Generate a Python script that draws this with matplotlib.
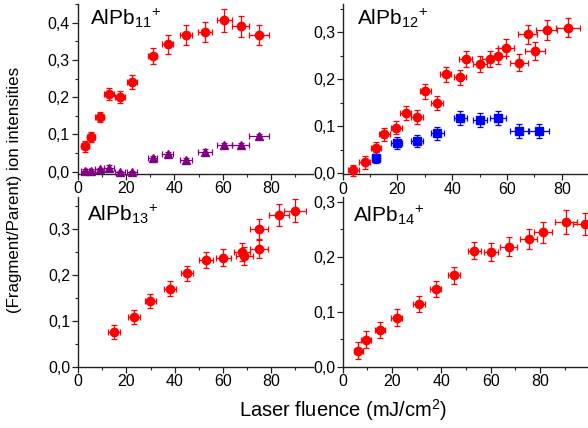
import matplotlib
matplotlib.use("Agg")
import matplotlib.pyplot as plt
from matplotlib.ticker import MultipleLocator, FuncFormatter

plt.rcParams['font.family'] = ['Liberation Sans', 'DejaVu Sans']
plt.rcParams['mathtext.fontset'] = 'custom'
plt.rcParams['mathtext.rm'] = 'Liberation Sans'
plt.rcParams['mathtext.it'] = 'Liberation Sans'
plt.rcParams['mathtext.default'] = 'regular'

# ---- data ----
# AlPb11+ (top-left)
x11 = [3.2, 5.5, 9.1, 13.0, 17.6, 22.5, 31.0, 37.2, 44.9, 52.5, 60.6, 67.4, 75.0]
y11_red = [0.068, 0.093, 0.147, 0.209, 0.200, 0.241, 0.311, 0.342, 0.367, 0.375, 0.406, 0.390, 0.367]
ye11_red = [0.014, 0.014, 0.014, 0.016, 0.016, 0.018, 0.022, 0.025, 0.027, 0.028, 0.030, 0.029, 0.027]
xe11 = [1.6, 1.7, 1.8, 1.9, 2.0, 2.1, 2.0, 2.2, 2.6, 2.9, 3.1, 3.6, 4.0]
y11_pur = [0.003, 0.002, 0.006, 0.011, -0.002, -0.002, 0.037, 0.048, 0.030, 0.054, 0.072, 0.072, 0.095]
ye11_pur = [0.005, 0.005, 0.005, 0.006, 0.005, 0.005, 0.006, 0.006, 0.006, 0.006, 0.006, 0.006, 0.006]

# AlPb12+ (top-right)
x12_red = [3.9, 8.1, 12.2, 15.2, 19.5, 23.1, 27.0, 30.1, 34.3, 37.7, 42.9, 44.9, 50.2, 53.8, 56.8, 59.7, 64.4, 67.6, 70.2, 74.5, 82.4]
y12_red = [0.006, 0.023, 0.053, 0.083, 0.097, 0.129, 0.120, 0.174, 0.149, 0.211, 0.204, 0.243, 0.232, 0.243, 0.250, 0.267, 0.235, 0.296, 0.260, 0.305, 0.310]
ye12_red = [0.012, 0.013, 0.013, 0.014, 0.014, 0.015, 0.015, 0.015, 0.015, 0.016, 0.016, 0.017, 0.017, 0.017, 0.017, 0.018, 0.018, 0.020, 0.019, 0.021, 0.021]
xe12_red = [2.0, 2.0, 1.8, 2.0, 2.0, 2.0, 2.2, 2.0, 2.2, 2.0, 2.3, 2.4, 2.6, 2.8, 3.0, 3.0, 3.3, 3.5, 3.6, 3.9, 4.4]
x12_blue = [12.2, 19.7, 27.0, 34.6, 42.9, 50.2, 56.8, 64.4, 71.8]
y12_blue = [0.033, 0.064, 0.069, 0.085, 0.118, 0.113, 0.117, 0.089, 0.090]
ye12_blue = [0.012, 0.013, 0.013, 0.014, 0.015, 0.015, 0.015, 0.015, 0.015]
xe12_blue = [1.5, 2.0, 2.2, 2.4, 2.4, 2.6, 3.0, 3.3, 3.6]

# AlPb13+ (bottom-left)
x13 = [14.8, 23.1, 29.8, 38.0, 45.0, 52.9, 60.2, 68.0, 68.9, 75.0, 75.0, 83.3, 89.9]
y13 = [0.075, 0.109, 0.144, 0.170, 0.204, 0.233, 0.238, 0.251, 0.242, 0.301, 0.257, 0.331, 0.340]
ye13 = [0.015, 0.015, 0.015, 0.016, 0.016, 0.018, 0.018, 0.020, 0.019, 0.022, 0.020, 0.024, 0.025]
xe13 = [2.3, 2.3, 2.3, 2.4, 2.5, 2.9, 3.1, 3.3, 3.4, 3.6, 3.6, 4.0, 4.5]

# AlPb14+ (bottom-right)
x14 = [6.3, 9.4, 15.1, 21.9, 30.9, 37.7, 45.1, 53.4, 60.1, 67.2, 75.3, 81.3, 90.4, 98.0]
y14 = [0.029, 0.049, 0.067, 0.089, 0.114, 0.141, 0.166, 0.211, 0.208, 0.218, 0.232, 0.244, 0.263, 0.259]
ye14 = [0.015, 0.015, 0.015, 0.015, 0.015, 0.015, 0.015, 0.016, 0.016, 0.017, 0.018, 0.019, 0.021, 0.020]
xe14 = [1.9, 2.0, 2.2, 2.3, 2.3, 2.3, 2.4, 2.7, 3.0, 3.3, 3.5, 3.7, 4.5, 4.6]

xticks = [0, 20, 40, 60, 80]

W, H = 588, 428
fig = plt.figure(figsize=(W / 100, H / 100), dpi=100)


def add_ax(left, right, top, bottom):
    return fig.add_axes([left / W, 1 - bottom / H, (right - left) / W, (bottom - top) / H])


comma = FuncFormatter(lambda v, p: ("%.1f" % v).replace('.', ','))


def style(ax, xlim, ylim):
    ax.set_xlim(*xlim)
    ax.set_ylim(*ylim)
    for s in ('top', 'right'):
        ax.spines[s].set_visible(False)
    for s in ('left', 'bottom'):
        ax.spines[s].set_linewidth(1.0)
        ax.spines[s].set_color('#222222')
    ax.set_xticks(xticks)
    ax.xaxis.set_minor_locator(MultipleLocator(10))
    ax.yaxis.set_major_locator(MultipleLocator(0.1))
    ax.yaxis.set_minor_locator(MultipleLocator(0.05))
    ax.yaxis.set_major_formatter(comma)
    ax.tick_params(which='major', direction='out', length=4, width=0.9, labelsize=11.5, pad=1.5, color='#222222')
    ax.tick_params(which='minor', direction='out', length=2.5, width=0.8, color='#222222')


def eb(ax, x, y, xe, ye, color, marker, ms=6):
    ax.errorbar(x, y, xerr=xe, yerr=ye, fmt=marker, color=color, ms=ms, mec=color, mfc=color,
                ecolor=color, elinewidth=0.9, capsize=2, capthick=0.9, clip_on=False, zorder=3)


ax1 = add_ax(77.5, 313, 4, 173.5)
style(ax1, (0, 97.3), (-0.005, 0.45))
eb(ax1, x11, y11_red, xe11, ye11_red, '#ff0000', 'o')
eb(ax1, x11, y11_pur, xe11, ye11_pur, '#800080', '^')

ax2 = add_ax(342.7, 587, 4, 174)
style(ax2, (0, 89.2), (-0.0015, 0.36))
eb(ax2, x12_red, y12_red, xe12_red, ye12_red, '#ff0000', 'o')
eb(ax2, x12_blue, y12_blue, xe12_blue, ye12_blue, '#0000ff', 's', ms=5.5)

ax3 = add_ax(78.3, 313, 196.7, 366.7)
style(ax3, (0, 97.4), (0, 0.371))
eb(ax3, x13, y13, xe13, ye13, '#ff0000', 'o')

ax4 = add_ax(342.7, 587, 196.7, 366.7)
style(ax4, (0, 99), (0, 0.309))
eb(ax4, x14, y14, xe14, ye14, '#ff0000', 'o')

titles = [(r"AlPb$_{11}$$^{+}$", 90, 25), (r"AlPb$_{12}$$^{+}$", 356.7, 25),
          (r"AlPb$_{13}$$^{+}$", 86.7, 221), (r"AlPb$_{14}$$^{+}$", 353, 221.7)]
for t, px, py in titles:
    fig.text(px / W, 1 - py / H, t, fontsize=15, ha='left', va='baseline')

fig.text(15 / W, 1 - 190 / H, "(Fragment/Parent) ion intensities", rotation=90,
         ha='center', va='center', fontsize=12.2)
fig.text(343 / W, 1 - 410 / H, "Laser fluence (mJ/cm$^{2}$)", ha='center', va='center', fontsize=14.5)

fig.savefig("out.png", dpi=100)
